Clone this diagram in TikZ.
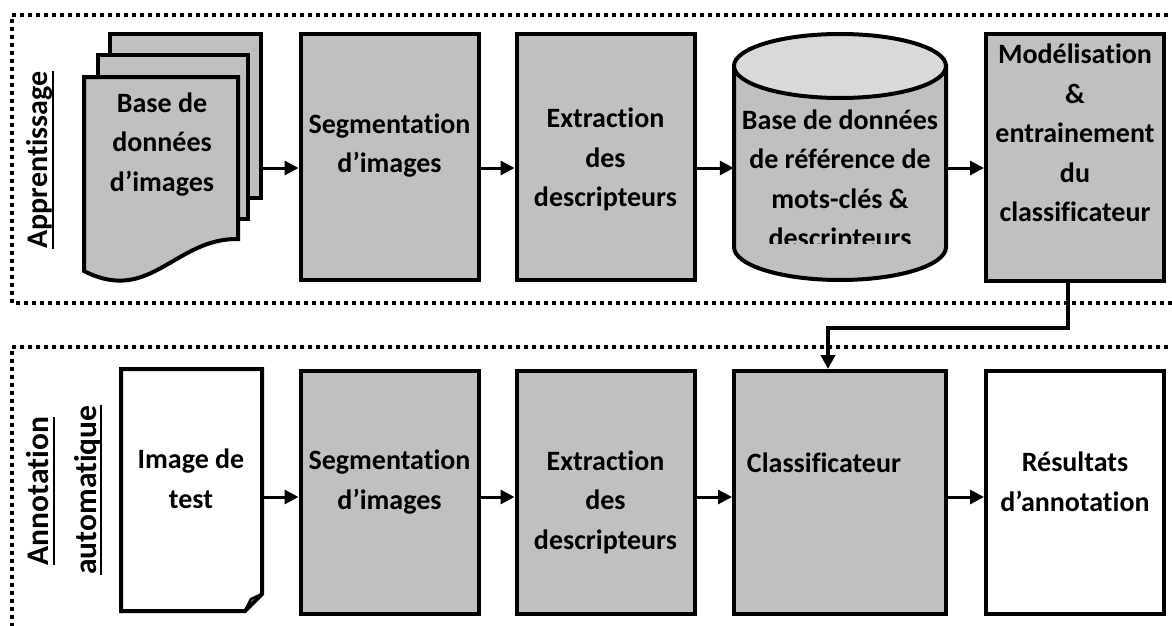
\documentclass[tikz,border=0pt]{standalone}
\usepackage{fontspec}
\setmainfont{Carlito}[Ligatures=NoCommon]
\usetikzlibrary{arrows.meta}
\definecolor{boxgray}{HTML}{C0C0C0}
\definecolor{topgray}{HTML}{D9D9D9}
\tikzset{
  box/.style={draw=black, line width=4pt, fill=boxgray, minimum width=178pt, minimum height=245pt, inner sep=0pt},
  wbox/.style={box, fill=white},
  lbl/.style={font=\fontsize{28}{39.5}\selectfont\bfseries, align=center, inner sep=0pt},
  vlbl/.style={font=\fontsize{30}{34}\selectfont\bfseries, rotate=90, anchor=base, inner sep=0pt},
  uline/.style={line width=2pt},
  frame/.style={line width=4pt, dash pattern=on 4pt off 4pt},
  arr/.style={line width=3pt, -{Triangle[length=14pt,width=14pt]}},
  bigarr/.style={line width=4.5pt, -{Triangle[length=14pt,width=14pt]}},
  shapeline/.style={draw=black, line width=4pt, line join=miter}
}
\begin{document}
\begin{tikzpicture}[x=1pt,y=-1pt]
\useasboundingbox (0,0) rectangle (1172,626);
% frames
\draw[frame] (1176,15) -- (12,15) -- (12,303) -- (1176,303);
\draw[frame] (1176,347) -- (12,347) -- (12,630);
% vertical labels
\node[vlbl] (lapp) at (47,160) {Apprentissage};
\node[vlbl, font=\fontsize{31.5}{34}\selectfont\bfseries] (lann) at (48,491) {Annotation};
\node[vlbl, font=\fontsize{31.5}{34}\selectfont\bfseries] (laut) at (96,490) {automatique};
\draw[uline] ([xshift=6pt]lapp.base west) -- ([xshift=6pt]lapp.base east);
\draw[uline] ([xshift=6pt]lann.base west) -- ([xshift=6pt]lann.base east);
\draw[uline] ([xshift=5pt]laut.base west) -- ([xshift=5pt]laut.base east);
% document stack
\filldraw[shapeline, fill=boxgray] (110,34) rectangle (261,198);
\filldraw[shapeline, fill=boxgray] (98,55) rectangle (248,219);
\filldraw[shapeline, fill=boxgray] (84,271) -- (84,77) -- (238,77) -- (238,239)
   .. controls (175,238) and (150,305) .. (84,271) -- cycle;
\coordinate (docR) at (262,168);
\node[lbl] (tdoc) at (162,144.5) {Base de\\données\\d’images};
% top row boxes
\node[box] (seg1) at (389.5,157) {};
\node[box] (ext1) at (605.5,157) {};
\node[inner sep=0pt, minimum width=212pt, minimum height=247pt] (cyl) at (840,157) {};
\node[box, minimum height=247pt] (mod) at (1075,157.5) {};
% cylinder
\filldraw[shapeline, fill=boxgray] (734,66) -- (734,247) arc[start angle=180, end angle=360, x radius=106, y radius=-33] -- (946,66) -- cycle;
\filldraw[shapeline, fill=topgray] (840,66) ellipse[x radius=106, y radius=32];
% top texts
\node[lbl] (tseg1) at (389.5,145.5) {Segmentation\\d’images};
\node[lbl] (text1) at (605.5,159.5) {Extraction\\des\\descripteurs};
\begin{scope}
\clip (734,100) rectangle (946,243);
\node[lbl] (tcyl) at (840,181) {Base de données\\de référence de\\mots-clés \&\\descripteurs};
\end{scope}
\node[lbl] (tmod) at (1075,133) {Modélisation\\\&\\entrainement\\du\\classificateur};
% top arrows
\coordinate (ya) at (0,168);
\draw[arr] (docR) -- (seg1.west |- ya);
\draw[arr] (seg1.east |- ya) -- (ext1.west |- ya);
\draw[arr] (ext1.east |- ya) -- (cyl.west |- ya);
\draw[arr] (cyl.east |- ya) -- (mod.west |- ya);
% bottom row
\filldraw[shapeline, fill=white] (121,369) -- (262,369) -- (262,594) -- (245,611) -- (121,611) -- cycle;
\draw[shapeline, line width=2.5pt, line join=round] (262,594) -- (251,599) -- (245,611);
\node[inner sep=0pt, minimum width=141pt, minimum height=242pt] (img) at (191.5,490) {};
\node[lbl] (timg) at (191,479) {Image de\\test};
\node[box, minimum height=243pt] (seg2) at (389.5,492.5) {};
\node[box, minimum height=243pt] (ext2) at (605.5,492.5) {};
\node[box, minimum height=243pt, minimum width=212pt] (clf) at (840,492.5) {};
\node[wbox, minimum height=243pt] (res) at (1075,492.5) {};
\node[lbl] (tseg2) at (389.5,482) {Segmentation\\d’images};
\node[lbl] (text2) at (605.5,502) {Extraction\\des\\descripteurs};
\node[lbl] (tclf) at (824,463) {Classificateur};
\node[lbl] (tres) at (1075,482) {Résultats\\d’annotation};
\coordinate (yb) at (0,497);
\draw[arr] (img.east |- yb) -- (seg2.west |- yb);
\draw[arr] (seg2.east |- yb) -- (ext2.west |- yb);
\draw[arr] (ext2.east |- yb) -- (clf.west |- yb);
\draw[arr] (clf.east |- yb) -- (res.west |- yb);
% link between the two stages
\coordinate (bend) at (828,328);
\draw[bigarr] ([xshift=-7pt]mod.south) |- (bend) -- ([xshift=-12pt]clf.north);
\end{tikzpicture}
\end{document}
